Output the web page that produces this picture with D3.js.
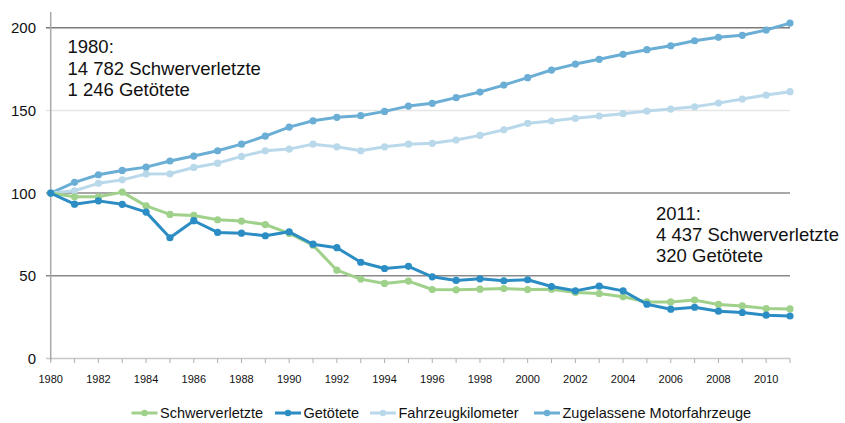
<!DOCTYPE html>
<html>
<head>
<meta charset="utf-8">
<script src="https://cdn.jsdelivr.net/npm/d3@7/dist/d3.min.js"></script>
<style>
  html, body { margin: 0; padding: 0; background: #fff; }
  svg { display: block; font-family: "Liberation Sans", Arial, sans-serif; }
</style>
</head>
<body>
<svg id="chart" width="845" height="423"></svg>
<script>
const years = d3.range(1980, 2012);
const xTickLabels = d3.range(1980, 2011, 2);
const yTicks = [0, 50, 100, 150, 200];

const schwerverletzte = [100, 97.8, 97.8, 100.6, 92.3, 87.1, 86.5, 83.9, 83.1, 81.0, 75.6,
  68.5, 53.4, 48.0, 45.4, 46.8, 41.7, 41.5, 41.9, 42.3, 41.7, 41.9, 39.9, 39.3, 37.3,
  34.2, 34.2, 35.3, 32.7, 31.8, 30.2, 30.0];
const getoetete = [100, 93.3, 95.3, 93.2, 88.5, 73.0, 83.3, 76.2, 75.8, 74.2, 76.6,
  69.1, 67.0, 58.2, 54.4, 55.7, 49.4, 47.2, 48.2, 47.0, 47.6, 43.5, 40.9, 43.7, 40.9,
  32.8, 29.8, 31.0, 28.6, 27.8, 26.2, 25.7];
const fahrzeugkilometer = [100, 101.4, 105.9, 108.0, 111.5, 111.7, 115.5, 118.1, 122.2, 125.6, 126.6,
  129.6, 128.0, 125.6, 128.0, 129.6, 130.1, 132.1, 134.9, 138.3, 142.2, 143.6, 145.2, 146.6, 148.0,
  149.6, 150.8, 152.2, 154.4, 156.9, 159.3, 161.3];
const motorfahrzeuge = [100, 106.5, 111.1, 113.7, 115.7, 119.4, 122.4, 125.6, 129.6, 134.5, 139.9,
  143.7, 145.8, 146.8, 149.4, 152.6, 154.3, 157.7, 161.1, 165.3, 169.8, 174.4, 178.0, 180.9, 183.9,
  186.7, 189.1, 192.1, 194.2, 195.4, 198.6, 202.8];

const seriesNames = ["Schwerverletzte", "Getötete", "Fahrzeugkilometer", "Zugelassene Motorfahrzeuge"];
const seriesColors = ["#9fd18b", "#2b8dc3", "#b9d9eb", "#6aaed5"];
const seriesValues = [schwerverletzte, getoetete, fahrzeugkilometer, motorfahrzeuge];

const note1980 = ["1980:", "14 782 Schwerverletzte", "1 246 Getötete"];
const note2011 = ["2011:", "4 437 Schwerverletzte", "320 Getötete"];

const svg = d3.select("#chart");
const x = d3.scaleLinear().domain([1980, 2011]).range([50.7, 790]);
const y = d3.scaleLinear().domain([0, 200]).range([358.5, 27.7]);

// gridlines
const gridColor = {0: "#c8c8c8", 50: "#8a8a8a", 100: "#8a8a8a", 150: "#e6e6e6", 200: "#7a7a7a"};
svg.append("g").selectAll("line").data(yTicks).join("line")
  .attr("x1", 46).attr("x2", x(2011))
  .attr("y1", d => y(d)).attr("y2", d => y(d))
  .attr("stroke", d => gridColor[d])
  .attr("stroke-width", 1.5);

// y axis line
svg.append("line")
  .attr("x1", x(1980)).attr("x2", x(1980))
  .attr("y1", 12).attr("y2", y(0) + 2)
  .attr("stroke", "#a8a8a8").attr("stroke-width", 1.5);

// y labels
svg.append("g").selectAll("text").data(yTicks).join("text")
  .attr("x", 36).attr("y", d => y(d) + 5.5)
  .attr("text-anchor", "end")
  .attr("font-size", 15)
  .attr("fill", "#111")
  .text(d => d);

// x ticks
svg.append("g").selectAll("line").data(years).join("line")
  .attr("x1", d => x(d)).attr("x2", d => x(d))
  .attr("y1", y(0)).attr("y2", y(0) + 4.5)
  .attr("stroke", "#b0b0b0").attr("stroke-width", 1);

svg.append("g").selectAll("text").data(xTickLabels).join("text")
  .attr("x", d => x(d)).attr("y", 383)
  .attr("text-anchor", "middle")
  .attr("font-size", 11)
  .attr("fill", "#111")
  .text(d => d);

// series
const line = d3.line().x((d, i) => x(years[i])).y(d => y(d));
const drawOrder = [3, 2, 0, 1];
drawOrder.forEach(si => {
  const g = svg.append("g");
  g.append("path")
    .attr("d", line(seriesValues[si]))
    .attr("fill", "none")
    .attr("stroke", seriesColors[si])
    .attr("stroke-width", 3)
    .attr("stroke-linejoin", "round");
  g.selectAll("circle").data(seriesValues[si]).join("circle")
    .attr("cx", (d, i) => x(years[i]))
    .attr("cy", d => y(d))
    .attr("r", 3.6)
    .attr("fill", seriesColors[si]);
});

// annotations
function note(lines, x0, y0) {
  const t = svg.append("text").attr("font-size", 18.5).attr("fill", "#111");
  lines.forEach((l, i) => {
    t.append("tspan").attr("x", x0).attr("y", y0 + i * 21.3).text(l);
  });
}
note(note1980, 67.5, 53.3);
note(note2011, 656, 219.5);

// legend
const legendX = [131.5, 275, 370, 534];
const legendY = 413;
const lg = svg.append("g");
seriesNames.forEach((name, i) => {
  const x0 = legendX[i];
  lg.append("line")
    .attr("x1", x0).attr("x2", x0 + 26)
    .attr("y1", legendY).attr("y2", legendY)
    .attr("stroke", seriesColors[i]).attr("stroke-width", 3);
  lg.append("circle")
    .attr("cx", x0 + 13).attr("cy", legendY).attr("r", 3.2)
    .attr("fill", seriesColors[i]);
  lg.append("text")
    .attr("x", x0 + 28.5).attr("y", legendY + 5)
    .attr("font-size", 14.5)
    .attr("fill", "#111")
    .text(name);
});
</script>
</body>
</html>
